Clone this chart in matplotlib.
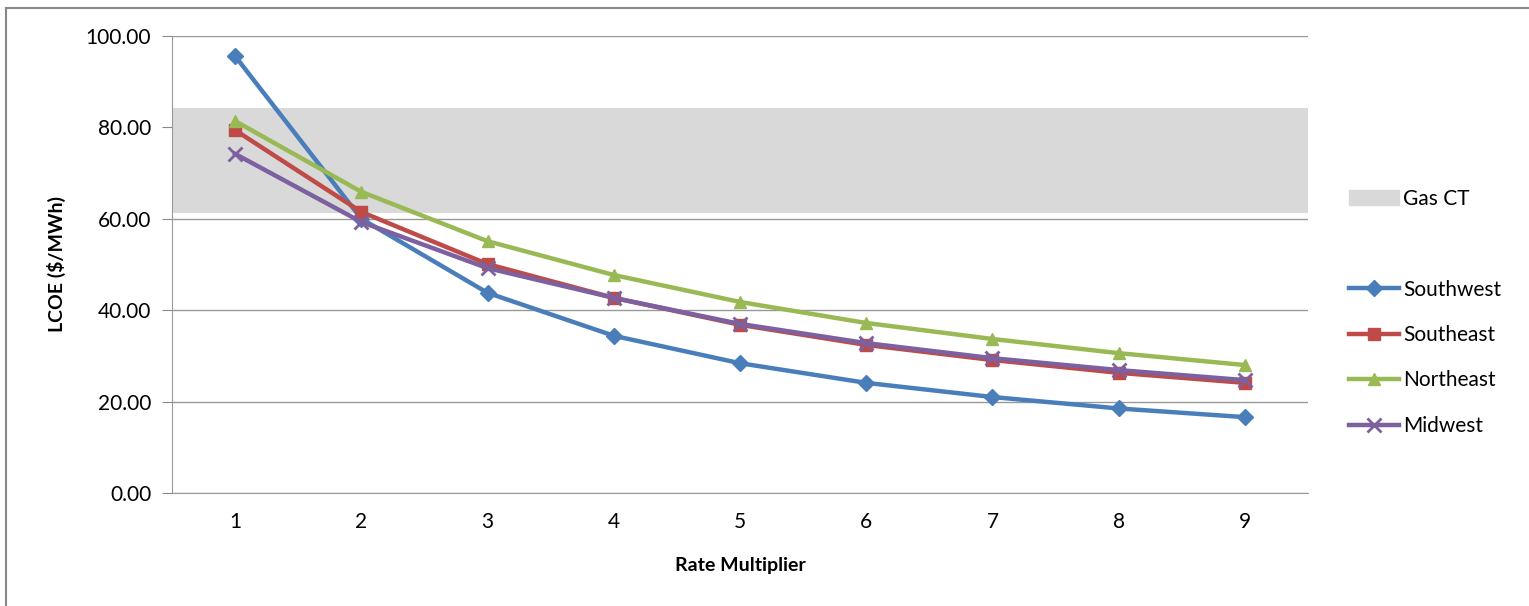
import matplotlib
matplotlib.use("Agg")
import matplotlib.pyplot as plt
from matplotlib.patches import Patch
from matplotlib.lines import Line2D

plt.rcParams['font.family'] = ['Lato', 'DejaVu Sans']

rate_multiplier = [1, 2, 3, 4, 5, 6, 7, 8, 9]
southwest = [95.6, 60.0, 43.8, 34.4, 28.4, 24.1, 21.0, 18.5, 16.6]
southeast = [79.4, 61.5, 50.1, 42.7, 36.8, 32.4, 29.1, 26.3, 24.1]
northeast = [81.4, 65.9, 55.1, 47.7, 41.8, 37.2, 33.7, 30.6, 28.0]
midwest = [74.2, 59.3, 49.2, 42.7, 37.0, 32.8, 29.5, 26.9, 24.7]
gas_ct_low = 61.3
gas_ct_high = 84.2
y_ticks = [0, 20, 40, 60, 80, 100]

series = [
    ("Southwest", southwest, "#4A7EBB", "D", 8),
    ("Southeast", southeast, "#BE4B48", "s", 8),
    ("Northeast", northeast, "#98B954", "^", 9),
    ("Midwest", midwest, "#7D60A0", "x", 10),
]

fig = plt.figure(figsize=(15.29, 6.06), dpi=100)
ax = fig.add_axes([172/1529, 1-493/606, (1308-172)/1529, (493-36)/606])

ax.fill_between([rate_multiplier[0]-0.5, rate_multiplier[-1]+0.5],
                [gas_ct_low]*2, [gas_ct_high]*2, color="#D9D9D9", lw=0, zorder=1)

for name, vals, col, mk, ms in series:
    ax.plot(rate_multiplier, vals, color=col, lw=3.2, marker=mk, ms=ms,
            mew=2 if mk == "x" else 1, mec=col, mfc=col, zorder=3, label=name)

ax.set_xlim(0.5, 9.5)
ax.set_ylim(0, 100)
ax.set_yticks(y_ticks)
ax.set_yticklabels([f"{v:.2f}" for v in y_ticks], fontsize=15)
ax.set_xticks(rate_multiplier)
ax.set_xticklabels([str(v) for v in rate_multiplier], fontsize=15)
ax.tick_params(axis='x', length=0, pad=14)
ax.tick_params(axis='y', length=7, color="#888888", pad=8)
ax.grid(axis='y', color="#999999", lw=1)
ax.set_axisbelow(True)
for s in ["top", "right"]:
    ax.spines[s].set_visible(False)
for s in ["left", "bottom"]:
    ax.spines[s].set_color("#999999")
ax.set_ylabel("LCOE ($/MWh)", fontsize=14, fontweight="bold", labelpad=14)
ax.set_xlabel("Rate Multiplier", fontsize=14, fontweight="bold", labelpad=18)

handles = [Patch(color="#D9D9D9"), Line2D([], [], color="none")]
labels = ["Gas CT", ""]
for name, vals, col, mk, ms in series:
    handles.append(Line2D([], [], color=col, lw=3.2, marker=mk, ms=ms,
                          mew=2 if mk == "x" else 1, mec=col, mfc=col))
    labels.append(name)
fig.legend(handles, labels, loc="upper left", bbox_to_anchor=(1330/1529, 1-170/606),
           frameon=False, fontsize=15, handlelength=2.4, handletextpad=0.2,
           labelspacing=1.22)

# chart-area border
fig.add_artist(Line2D([6/1529, 6/1529], [0, 1-8/606], transform=fig.transFigure,
                      color="#888888", lw=1.5))
fig.add_artist(Line2D([6/1529, 1], [1-8/606, 1-8/606], transform=fig.transFigure,
                      color="#888888", lw=1.5))

fig.savefig("out.png", dpi=100)
